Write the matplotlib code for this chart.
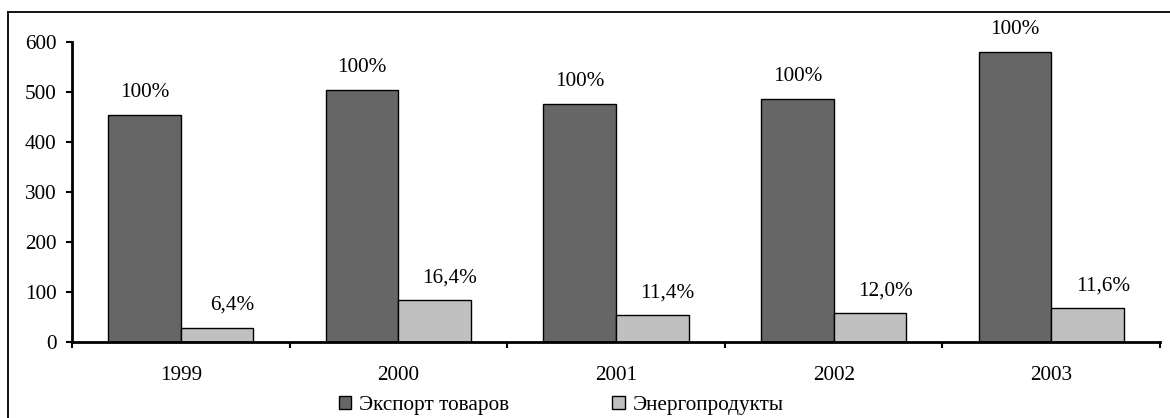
import matplotlib.pyplot as plt
import numpy as np
from matplotlib.lines import Line2D

plt.rcParams['font.family'] = ['Liberation Serif', 'DejaVu Serif']

# Data
years = ['1999', '2000', '2001', '2002', '2003']
export_goods = [454, 504, 476, 486, 580]
energy = [29, 83, 54, 58, 67]
export_labels = ['100%', '100%', '100%', '100%', '100%']
energy_labels = ['6,4%', '16,4%', '11,4%', '12,0%', '11,6%']

fs = 15.3

fig = plt.figure(figsize=(11.7, 4.18), dpi=100)
ax = fig.add_axes([0.0615, 0.1818, 0.93, 0.718])

x = np.arange(len(years))
w = 1 / 3
b1 = ax.bar(x - w / 2, export_goods, w, color='#666666', edgecolor='black', linewidth=1,
            label='Экспорт товаров')
b2 = ax.bar(x + w / 2, energy, w, color='#c0c0c0', edgecolor='black', linewidth=1,
            label='Энергопродукты')

for rect, lab in zip(b1, export_labels):
    ax.annotate(lab, (rect.get_x() + rect.get_width() / 2, rect.get_height()),
                xytext=(0, 9), textcoords='offset points', ha='center', va='bottom', fontsize=fs)
for rect, lab in zip(b2, energy_labels):
    ax.annotate(lab, (rect.get_x() + rect.get_width() / 2, rect.get_height()),
                xytext=(11, 9), textcoords='offset points', ha='center', va='bottom', fontsize=fs)

ax.set_xlim(-0.5, len(years) - 0.5)
ax.set_ylim(0, 600)
ax.set_yticks(range(0, 601, 100))
ax.set_xticks(x)
ax.set_xticklabels(years)
ax.set_xticks(np.arange(-0.5, len(years)), minor=True)

ax.tick_params(axis='x', which='major', length=0, pad=17, labelsize=fs)
ax.tick_params(axis='x', which='minor', length=4, width=1.5, direction='out')
ax.tick_params(axis='y', length=4, width=1.5, direction='out', pad=7, labelsize=fs)

for s in ['top', 'right']:
    ax.spines[s].set_visible(False)
for s in ['left', 'bottom']:
    ax.spines[s].set_linewidth(2)

# outer chart frame (cropped at right and bottom)
fig.add_artist(Line2D([0.0068, 0.0068], [0.9713, 0.0], transform=fig.transFigure, color='black', lw=1.3))
fig.add_artist(Line2D([0.0068, 1.0], [0.9713, 0.9713], transform=fig.transFigure, color='black', lw=1.3))

fig.legend(handles=[b1, b2], loc='center left', bbox_to_anchor=(0.2895, 0.03), ncol=2,
           frameon=False, fontsize=fs, handlelength=0.6, handleheight=0.6,
           handletextpad=0.35, columnspacing=4.85, borderpad=0, borderaxespad=0)

fig.savefig('out.png', dpi=100)
